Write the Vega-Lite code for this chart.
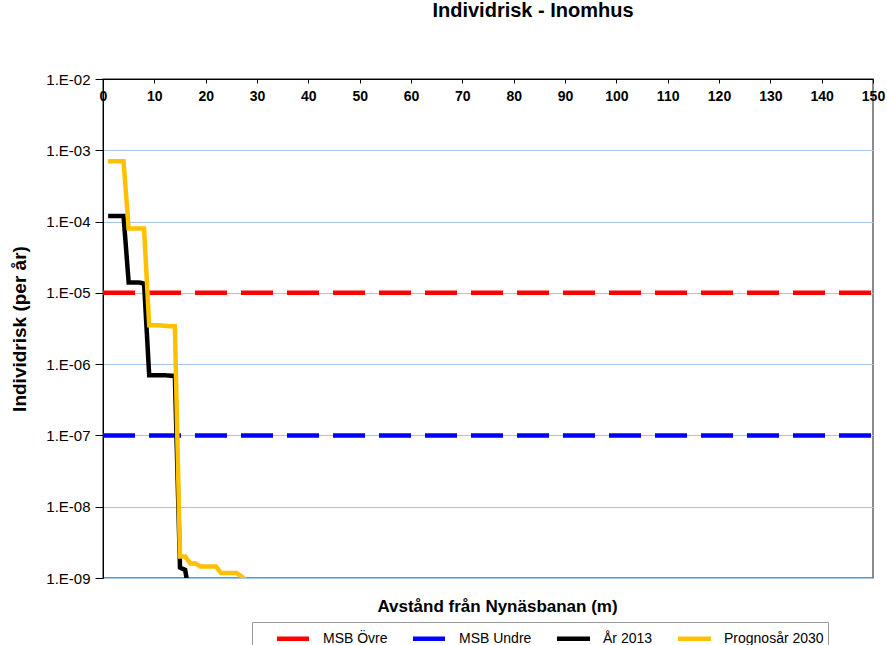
{
  "$schema": "https://vega.github.io/schema/vega-lite/v6.json",
  "width": 770,
  "height": 499,
  "autosize": {"type": "none"},
  "padding": {"left": 103, "top": 79, "right": 14, "bottom": 67},
  "title": {"text": "Individrisk - Inomhus", "font": "Liberation Sans", "fontSize": 20, "fontWeight": "bold", "color": "#000000", "anchor": "middle", "dx": 45, "offset": 51},
  "config": {"view": {"stroke": "#666666", "strokeWidth": 1.5}, "font": "Liberation Sans"},
  "data": {"values": [
    {"serie": "MSB Övre", "x": 0, "risk": 1e-5},
    {"serie": "MSB Övre", "x": 150, "risk": 1e-5},
    {"serie": "MSB Undre", "x": 0, "risk": 1e-7},
    {"serie": "MSB Undre", "x": 150, "risk": 1e-7},
    {"serie": "År 2013", "x": 1, "risk": 1.2e-4},
    {"serie": "År 2013", "x": 2, "risk": 1.2e-4},
    {"serie": "År 2013", "x": 3, "risk": 1.2e-4},
    {"serie": "År 2013", "x": 4, "risk": 1.2e-4},
    {"serie": "År 2013", "x": 5, "risk": 1.4e-5},
    {"serie": "År 2013", "x": 6, "risk": 1.4e-5},
    {"serie": "År 2013", "x": 7, "risk": 1.4e-5},
    {"serie": "År 2013", "x": 8, "risk": 1.35e-5},
    {"serie": "År 2013", "x": 9, "risk": 7.0e-7},
    {"serie": "År 2013", "x": 10, "risk": 7.0e-7},
    {"serie": "År 2013", "x": 11, "risk": 7.0e-7},
    {"serie": "År 2013", "x": 12, "risk": 7.0e-7},
    {"serie": "År 2013", "x": 13, "risk": 6.9e-7},
    {"serie": "År 2013", "x": 14, "risk": 6.9e-7},
    {"serie": "År 2013", "x": 15, "risk": 1.4e-9},
    {"serie": "År 2013", "x": 16, "risk": 1.3e-9},
    {"serie": "År 2013", "x": 17, "risk": 5e-10},
    {"serie": "Prognosår 2030", "x": 1, "risk": 7.0e-4},
    {"serie": "Prognosår 2030", "x": 2, "risk": 7.0e-4},
    {"serie": "Prognosår 2030", "x": 3, "risk": 7.0e-4},
    {"serie": "Prognosår 2030", "x": 4, "risk": 7.0e-4},
    {"serie": "Prognosår 2030", "x": 5, "risk": 8.0e-5},
    {"serie": "Prognosår 2030", "x": 6, "risk": 8.0e-5},
    {"serie": "Prognosår 2030", "x": 7, "risk": 8.0e-5},
    {"serie": "Prognosår 2030", "x": 8, "risk": 8.0e-5},
    {"serie": "Prognosår 2030", "x": 9, "risk": 3.5e-6},
    {"serie": "Prognosår 2030", "x": 10, "risk": 3.5e-6},
    {"serie": "Prognosår 2030", "x": 11, "risk": 3.5e-6},
    {"serie": "Prognosår 2030", "x": 12, "risk": 3.45e-6},
    {"serie": "Prognosår 2030", "x": 13, "risk": 3.4e-6},
    {"serie": "Prognosår 2030", "x": 14, "risk": 3.4e-6},
    {"serie": "Prognosår 2030", "x": 15, "risk": 2.0e-9},
    {"serie": "Prognosår 2030", "x": 16, "risk": 2.0e-9},
    {"serie": "Prognosår 2030", "x": 17, "risk": 1.6e-9},
    {"serie": "Prognosår 2030", "x": 18, "risk": 1.6e-9},
    {"serie": "Prognosår 2030", "x": 19, "risk": 1.45e-9},
    {"serie": "Prognosår 2030", "x": 20, "risk": 1.45e-9},
    {"serie": "Prognosår 2030", "x": 21, "risk": 1.45e-9},
    {"serie": "Prognosår 2030", "x": 22, "risk": 1.45e-9},
    {"serie": "Prognosår 2030", "x": 23, "risk": 1.18e-9},
    {"serie": "Prognosår 2030", "x": 24, "risk": 1.18e-9},
    {"serie": "Prognosår 2030", "x": 25, "risk": 1.18e-9},
    {"serie": "Prognosår 2030", "x": 26, "risk": 1.18e-9},
    {"serie": "Prognosår 2030", "x": 27, "risk": 1.05e-9},
    {"serie": "Prognosår 2030", "x": 28, "risk": 9.0e-10}
  ]},
  "mark": {"type": "line", "clip": true},
  "encoding": {
    "x": {
      "field": "x", "type": "quantitative",
      "scale": {"domain": [0, 150], "nice": false},
      "axis": {
        "orient": "top",
        "values": [0, 10, 20, 30, 40, 50, 60, 70, 80, 90, 100, 110, 120, 130, 140, 150],
        "labelFontWeight": "bold", "labelFontSize": 14, "labelColor": "#000000", "labelFont": "Liberation Sans",
        "labelFlush": false,
        "tickSize": -4, "tickColor": "#000000", "labelPadding": -20,
        "domainColor": "#000000", "grid": false,
        "title": "Avstånd från Nynäsbanan (m)", "titleY": 532, "titleFontSize": 17, "titleFontWeight": "bold",
        "titleColor": "#000000", "titleBaseline": "alphabetic", "titleFont": "Liberation Sans", "titleX": 394
      }
    },
    "y": {
      "field": "risk", "type": "quantitative",
      "scale": {"type": "log", "domain": [1e-9, 1e-2], "nice": false},
      "axis": {
        "values": [1e-9, 1e-8, 1e-7, 1e-6, 1e-5, 1e-4, 1e-3, 1e-2],
        "labelExpr": "'1.E-0' + round(-log(datum.value)/LN10)",
        "labelFontSize": 15, "labelColor": "#000000", "labelFont": "Liberation Sans",
        "tickSize": 8, "tickColor": "#000000", "labelPadding": 5,
        "domainColor": "#000000", "gridColor": "#a9c4e8", "gridWidth": 1, "gridOpacity": 1,
        "title": "Individrisk (per år)", "titleFontSize": 19, "titleFontWeight": "bold", "titleColor": "#000000",
        "titlePadding": 16, "titleFont": "Liberation Sans"
      }
    },
    "color": {
      "field": "serie", "type": "nominal",
      "scale": {"domain": ["MSB Övre", "MSB Undre", "År 2013", "Prognosår 2030"], "range": ["#ff0000", "#0000ff", "#000000", "#ffc000"]},
      "legend": {
        "orient": "none", "legendX": 149, "legendY": 543, "direction": "horizontal", "title": null,
        "symbolType": "M-1.65,0L1.65,0", "symbolSize": 400, "symbolStrokeWidth": 4, "symbolOpacity": 1,
        "symbolDash": [1, 0],
        "labelFontSize": 14, "labelColor": "#000000", "labelFont": "Liberation Sans", "labelOffset": 17,
        "columnPadding": 4, "padding": 4, "symbolOffset": 25,
        "strokeColor": "#999999", "fillColor": "#ffffff"
      }
    },
    "strokeDash": {
      "field": "serie", "type": "nominal",
      "scale": {"domain": ["MSB Övre", "MSB Undre", "År 2013", "Prognosår 2030"], "range": [[32, 14], [32, 14], [1, 0], [1, 0]]},
      "legend": null
    },
    "strokeWidth": {
      "field": "serie", "type": "ordinal",
      "scale": {"domain": ["MSB Övre", "MSB Undre", "År 2013", "Prognosår 2030"], "range": [4.5, 4.5, 3, 3]},
      "legend": null
    },
    "order": {"field": "x", "type": "quantitative"}
  }
}
